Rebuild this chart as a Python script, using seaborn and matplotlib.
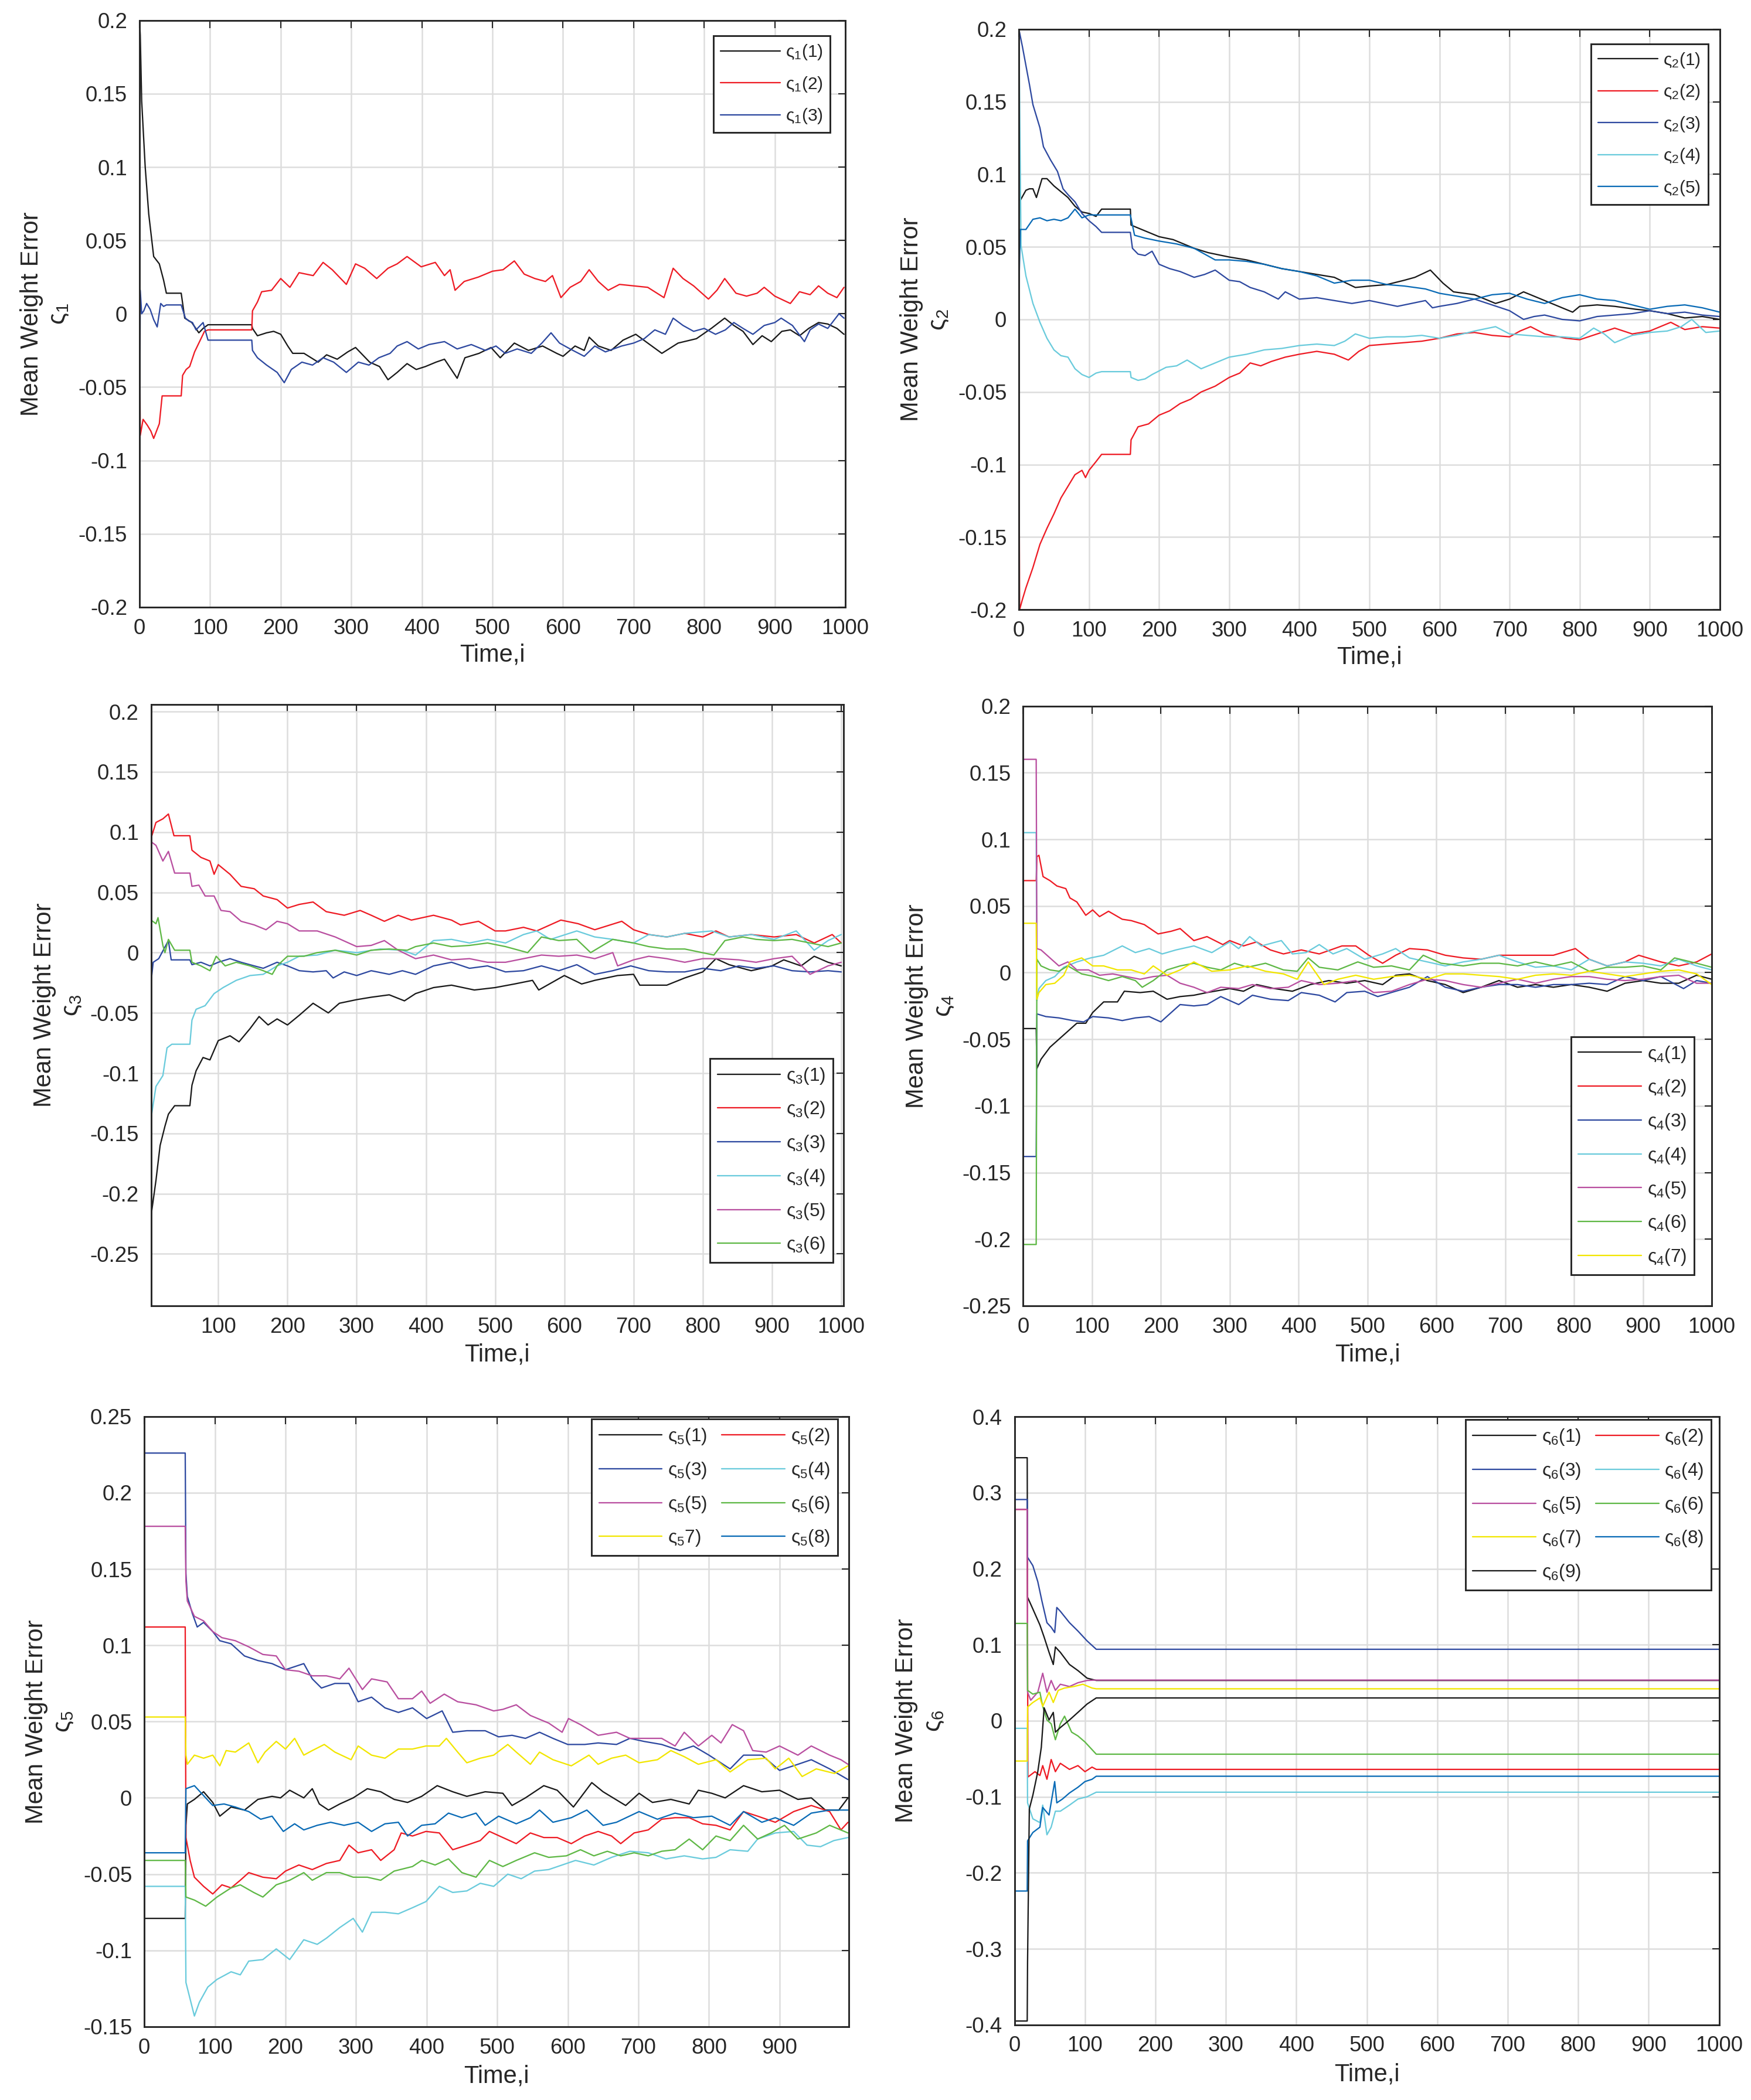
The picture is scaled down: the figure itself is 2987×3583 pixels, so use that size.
import matplotlib
matplotlib.use("Agg")
import matplotlib.pyplot as plt
import seaborn as sns

sns.set_style("white")
plt.rcParams["font.family"] = ["Liberation Sans", "DejaVu Sans"]
plt.rcParams["mathtext.fontset"] = "custom"
plt.rcParams["mathtext.rm"] = "Liberation Sans"
plt.rcParams["mathtext.it"] = "Liberation Sans:italic"
plt.rcParams["axes.unicode_minus"] = False

# colours (MATLAB-like)
BLACK = "#1a1a1a"
RED = "#ee1c25"
NAVY = "#2e49a0"
CYAN = "#6acbdc"
MAGENTA = "#b94fa0"
GREEN = "#5fb846"
YELLOW = "#f2e600"
BLUE = "#0a6bb6"

# ---------------- panel 1 : (time, value) ----------------
s1_1 = [(0, 0.2), (1, 0.19), (3, 0.145), (8, 0.1), (13, 0.068), (20, 0.039), (28, 0.034), (34, 0.023),
        (38, 0.014), (59, 0.014), (64, -0.003), (74, -0.006), (84, -0.013), (90, -0.01), (97, -0.0075),
        (159, -0.0075), (160, -0.01), (167, -0.015), (180, -0.013), (190, -0.012), (200, -0.014), (210, -0.022),
        (217, -0.027), (233, -0.027), (253, -0.033), (265, -0.028), (280, -0.031), (295, -0.026), (306, -0.023),
        (326, -0.033), (340, -0.036), (352, -0.045), (365, -0.04), (379, -0.034), (392, -0.038), (405, -0.036),
        (420, -0.033), (432, -0.031), (450, -0.044), (461, -0.03), (481, -0.027), (498, -0.023), (511, -0.03),
        (531, -0.02), (551, -0.025), (571, -0.022), (591, -0.027), (600, -0.029), (617, -0.022), (630, -0.025),
        (637, -0.016), (650, -0.022), (668, -0.025), (685, -0.018), (703, -0.014), (720, -0.02), (740, -0.027),
        (763, -0.02), (789, -0.017), (810, -0.01), (829, -0.003), (842, -0.008), (855, -0.012), (869, -0.021),
        (882, -0.015), (895, -0.019), (910, -0.012), (922, -0.011), (935, -0.015), (948, -0.01), (962, -0.006),
        (975, -0.007), (988, -0.01), (998, -0.014)]
s1_2 = [(0, 0.0), (1, -0.083), (5, -0.072), (11, -0.076), (16, -0.08), (20, -0.085), (28, -0.075), (32, -0.056),
        (59, -0.056), (61, -0.042), (66, -0.038), (71, -0.036), (78, -0.026), (87, -0.017), (92, -0.012),
        (97, -0.011), (159, -0.011), (160, 0.002), (167, 0.008), (173, 0.015), (187, 0.016), (200, 0.024),
        (213, 0.018), (226, 0.028), (246, 0.026), (260, 0.035), (273, 0.03), (293, 0.02), (306, 0.034),
        (319, 0.031), (336, 0.024), (352, 0.031), (365, 0.034), (379, 0.039), (399, 0.032), (419, 0.035),
        (432, 0.026), (440, 0.03), (447, 0.016), (460, 0.022), (480, 0.025), (500, 0.029), (515, 0.03),
        (531, 0.036), (545, 0.027), (560, 0.024), (575, 0.022), (585, 0.026), (597, 0.011), (610, 0.018),
        (625, 0.022), (637, 0.03), (650, 0.022), (664, 0.016), (680, 0.02), (700, 0.019), (720, 0.018),
        (743, 0.011), (756, 0.031), (770, 0.024), (785, 0.019), (806, 0.01), (818, 0.016), (829, 0.024),
        (845, 0.014), (860, 0.012), (875, 0.014), (885, 0.018), (900, 0.012), (922, 0.007), (935, 0.015),
        (950, 0.013), (962, 0.019), (975, 0.014), (988, 0.011), (998, 0.018)]
s1_3 = [(0, -0.11), (1, 0.016), (3, 0.0), (6, 0.002), (10, 0.007), (15, 0.003), (20, -0.004), (25, -0.009),
        (30, 0.007), (34, 0.005), (38, 0.006), (59, 0.006), (65, -0.003), (70, -0.005), (75, -0.006),
        (80, -0.011), (86, -0.008), (90, -0.006), (97, -0.018), (159, -0.018), (160, -0.025), (167, -0.03),
        (180, -0.035), (195, -0.04), (205, -0.047), (215, -0.038), (230, -0.033), (245, -0.035), (260, -0.03),
        (275, -0.033), (293, -0.04), (310, -0.033), (325, -0.035), (339, -0.03), (355, -0.027), (365, -0.022),
        (379, -0.019), (395, -0.024), (410, -0.021), (432, -0.019), (450, -0.024), (470, -0.021), (490, -0.025),
        (505, -0.022), (518, -0.027), (535, -0.024), (555, -0.027), (570, -0.02), (583, -0.013), (595, -0.02),
        (610, -0.024), (630, -0.029), (645, -0.022), (660, -0.026), (683, -0.022), (700, -0.02), (715, -0.017),
        (730, -0.011), (745, -0.014), (756, -0.003), (770, -0.008), (785, -0.012), (800, -0.01), (816, -0.014),
        (830, -0.011), (842, -0.006), (855, -0.01), (869, -0.014), (885, -0.008), (900, -0.006), (909, -0.003),
        (925, -0.008), (942, -0.019), (950, -0.011), (962, -0.007), (975, -0.01), (991, 0.0), (998, -0.003)]

# ---------------- panel 2 ----------------
s2_1 = [(0, 0.083), (2, 0.082), (10, 0.089), (15, 0.09), (20, 0.09), (25, 0.084), (33, 0.097), (40, 0.097),
        (50, 0.092), (60, 0.088), (70, 0.084), (80, 0.078), (90, 0.074), (100, 0.073), (110, 0.071),
        (118, 0.076), (159, 0.076), (160, 0.065), (175, 0.062), (190, 0.059), (200, 0.057), (220, 0.055),
        (235, 0.052), (250, 0.049), (270, 0.046), (300, 0.043), (325, 0.041), (350, 0.038), (375, 0.035),
        (400, 0.033), (425, 0.031), (450, 0.029), (480, 0.022), (500, 0.023), (525, 0.024), (550, 0.027),
        (565, 0.029), (587, 0.034), (595, 0.03), (605, 0.025), (620, 0.019), (650, 0.017), (680, 0.011),
        (700, 0.014), (720, 0.019), (740, 0.015), (760, 0.011), (790, 0.005), (800, 0.009), (825, 0.01),
        (850, 0.009), (880, 0.007), (900, 0.006), (925, 0.004), (950, 0.001), (975, 0.002), (1000, 0.0)]
s2_2 = [(0, -0.067), (1, -0.2), (5, -0.193), (10, -0.185), (20, -0.171), (30, -0.155), (40, -0.144),
        (50, -0.134), (60, -0.123), (70, -0.115), (80, -0.107), (90, -0.104), (95, -0.109), (100, -0.104),
        (110, -0.098), (118, -0.093), (159, -0.093), (160, -0.083), (170, -0.074), (185, -0.072), (200, -0.066),
        (215, -0.063), (230, -0.058), (245, -0.055), (260, -0.05), (280, -0.046), (300, -0.04), (315, -0.037),
        (330, -0.03), (345, -0.032), (360, -0.029), (380, -0.026), (400, -0.024), (425, -0.022), (450, -0.024),
        (470, -0.028), (485, -0.022), (500, -0.018), (525, -0.017), (550, -0.016), (575, -0.015), (600, -0.013),
        (625, -0.01), (650, -0.009), (675, -0.011), (700, -0.012), (715, -0.008), (730, -0.005), (750, -0.01),
        (780, -0.013), (800, -0.014), (825, -0.01), (850, -0.006), (875, -0.01), (900, -0.008), (930, -0.002),
        (950, -0.007), (975, -0.005), (1000, -0.006)]
s2_3 = [(0, 0.2), (5, 0.188), (10, 0.175), (15, 0.162), (20, 0.148), (25, 0.14), (30, 0.132), (35, 0.119),
        (45, 0.11), (55, 0.102), (63, 0.09), (70, 0.086), (80, 0.081), (90, 0.073), (100, 0.068), (110, 0.064),
        (118, 0.06), (159, 0.06), (162, 0.049), (170, 0.045), (180, 0.044), (190, 0.047), (200, 0.038),
        (215, 0.035), (230, 0.033), (250, 0.029), (265, 0.031), (280, 0.034), (300, 0.027), (315, 0.026),
        (330, 0.022), (350, 0.019), (370, 0.014), (380, 0.019), (400, 0.014), (425, 0.015), (450, 0.013),
        (475, 0.011), (500, 0.013), (520, 0.011), (540, 0.009), (560, 0.011), (580, 0.013), (590, 0.008),
        (600, 0.009), (625, 0.011), (650, 0.014), (675, 0.01), (700, 0.006), (720, 0.0), (735, 0.002),
        (750, 0.003), (775, 0.0), (800, -0.001), (825, 0.002), (850, 0.003), (875, 0.004), (900, 0.006),
        (925, 0.004), (950, 0.005), (975, 0.003), (1000, 0.002)]
s2_4 = [(0, 0.2), (3, 0.051), (10, 0.03), (20, 0.011), (30, -0.002), (40, -0.013), (50, -0.021), (60, -0.025),
        (70, -0.026), (80, -0.034), (90, -0.038), (100, -0.04), (110, -0.037), (118, -0.036), (159, -0.036),
        (160, -0.04), (170, -0.042), (180, -0.041), (190, -0.038), (210, -0.033), (225, -0.032), (240, -0.028),
        (260, -0.034), (280, -0.03), (300, -0.026), (325, -0.024), (350, -0.021), (375, -0.02), (400, -0.018),
        (425, -0.017), (450, -0.018), (465, -0.015), (480, -0.01), (500, -0.013), (525, -0.012), (550, -0.012),
        (575, -0.011), (600, -0.013), (625, -0.011), (650, -0.008), (680, -0.005), (700, -0.01), (725, -0.011),
        (750, -0.012), (775, -0.012), (800, -0.013), (820, -0.006), (835, -0.01), (850, -0.016), (875, -0.011),
        (900, -0.009), (925, -0.008), (945, -0.005), (960, 0.0), (980, -0.009), (1000, -0.008)]
s2_5 = [(0, 0.021), (2, 0.062), (10, 0.062), (20, 0.069), (30, 0.07), (40, 0.068), (50, 0.069), (60, 0.068),
        (70, 0.07), (80, 0.076), (90, 0.07), (100, 0.072), (118, 0.072), (159, 0.072), (165, 0.058),
        (180, 0.056), (200, 0.054), (225, 0.052), (250, 0.049), (265, 0.045), (280, 0.041), (300, 0.041),
        (325, 0.04), (350, 0.038), (375, 0.035), (400, 0.033), (425, 0.03), (450, 0.025), (475, 0.027),
        (500, 0.027), (525, 0.024), (550, 0.023), (580, 0.021), (600, 0.018), (625, 0.016), (650, 0.014),
        (675, 0.017), (700, 0.018), (725, 0.014), (750, 0.011), (775, 0.015), (800, 0.017), (825, 0.014),
        (850, 0.013), (875, 0.01), (900, 0.007), (925, 0.009), (950, 0.01), (975, 0.008), (1000, 0.005)]

# ---------------- panel 3 ----------------
s3_1 = [(3, -0.218), (10, -0.189), (16, -0.16), (23, -0.144), (28, -0.134), (37, -0.127), (59, -0.127),
        (62, -0.11), (68, -0.098), (78, -0.087), (88, -0.089), (100, -0.073), (117, -0.069), (130, -0.074),
        (146, -0.063), (159, -0.053), (172, -0.06), (185, -0.055), (200, -0.06), (217, -0.052), (237, -0.042),
        (259, -0.05), (275, -0.042), (300, -0.039), (321, -0.037), (347, -0.035), (369, -0.04), (385, -0.034),
        (411, -0.029), (437, -0.027), (470, -0.031), (500, -0.029), (528, -0.026), (554, -0.023), (563, -0.031),
        (600, -0.019), (625, -0.026), (644, -0.023), (677, -0.019), (700, -0.018), (709, -0.027), (748, -0.027),
        (774, -0.021), (800, -0.016), (819, -0.005), (838, -0.01), (870, -0.015), (900, -0.011), (917, -0.006),
        (942, -0.011), (961, -0.003), (981, -0.008), (1000, -0.011)]
s3_2 = [(3, 0.095), (10, 0.108), (20, 0.111), (28, 0.115), (36, 0.097), (59, 0.097), (62, 0.085), (75, 0.079),
        (88, 0.076), (94, 0.065), (100, 0.073), (117, 0.065), (133, 0.055), (152, 0.053), (165, 0.047),
        (185, 0.044), (200, 0.037), (217, 0.04), (237, 0.042), (256, 0.034), (282, 0.031), (305, 0.035),
        (321, 0.031), (340, 0.026), (360, 0.031), (379, 0.027), (411, 0.031), (437, 0.027), (450, 0.023),
        (476, 0.026), (500, 0.018), (515, 0.018), (541, 0.021), (560, 0.018), (595, 0.027), (620, 0.024),
        (644, 0.019), (683, 0.026), (700, 0.019), (722, 0.015), (748, 0.013), (774, 0.016), (800, 0.013),
        (819, 0.018), (838, 0.013), (870, 0.015), (903, 0.013), (935, 0.015), (961, 0.008), (987, 0.015),
        (1000, 0.008)]
s3_3 = [(3, -0.024), (6, -0.008), (14, -0.005), (28, 0.01), (32, -0.006), (59, -0.006), (62, -0.01),
        (75, -0.008), (88, -0.011), (100, -0.008), (117, -0.005), (133, -0.008), (152, -0.011), (165, -0.013),
        (185, -0.008), (200, -0.011), (217, -0.015), (237, -0.016), (256, -0.015), (266, -0.021), (282, -0.016),
        (300, -0.019), (321, -0.015), (347, -0.018), (366, -0.015), (385, -0.018), (411, -0.011), (437, -0.008),
        (463, -0.013), (489, -0.011), (515, -0.016), (541, -0.015), (567, -0.011), (592, -0.015), (618, -0.01),
        (644, -0.018), (670, -0.015), (696, -0.011), (722, -0.015), (748, -0.016), (774, -0.016), (800, -0.013),
        (826, -0.015), (852, -0.011), (877, -0.013), (903, -0.011), (929, -0.015), (955, -0.016), (981, -0.015),
        (1000, -0.016)]
s3_4 = [(3, -0.137), (10, -0.111), (20, -0.102), (26, -0.079), (33, -0.076), (59, -0.076), (62, -0.056),
        (68, -0.047), (81, -0.044), (94, -0.034), (107, -0.029), (126, -0.023), (146, -0.019), (165, -0.018),
        (185, -0.011), (200, -0.008), (217, -0.003), (243, -0.002), (269, 0.002), (300, 0.0), (334, 0.003),
        (366, 0.002), (385, -0.002), (411, 0.01), (437, 0.011), (463, 0.008), (489, 0.011), (515, 0.008),
        (541, 0.015), (560, 0.018), (580, 0.011), (618, 0.018), (644, 0.013), (670, 0.011), (700, 0.008),
        (722, 0.015), (748, 0.013), (774, 0.016), (813, 0.018), (838, 0.013), (870, 0.015), (903, 0.011),
        (935, 0.018), (961, 0.002), (981, 0.01), (1000, 0.015)]
s3_5 = [(3, 0.092), (10, 0.089), (20, 0.076), (28, 0.084), (37, 0.066), (59, 0.066), (62, 0.055), (72, 0.056),
        (81, 0.047), (94, 0.047), (104, 0.035), (117, 0.034), (133, 0.026), (152, 0.023), (169, 0.019),
        (185, 0.026), (200, 0.024), (217, 0.018), (243, 0.018), (269, 0.013), (300, 0.005), (321, 0.006),
        (340, 0.01), (360, 0.002), (385, -0.005), (411, -0.002), (437, -0.006), (463, -0.005), (489, -0.008),
        (515, -0.008), (541, -0.005), (567, -0.002), (592, -0.003), (618, -0.002), (644, -0.005), (670, 0.0),
        (677, -0.011), (700, -0.006), (722, -0.003), (748, -0.005), (774, -0.008), (800, -0.005), (826, -0.005),
        (852, -0.006), (877, -0.008), (903, -0.005), (929, -0.003), (955, -0.018), (981, -0.011), (1000, -0.008)]
s3_6 = [(3, 0.027), (10, 0.024), (13, 0.029), (20, 0.006), (23, 0.0), (28, 0.011), (37, 0.002), (59, 0.002),
        (62, -0.008), (75, -0.011), (88, -0.015), (97, -0.003), (110, -0.011), (126, -0.008), (146, -0.011),
        (165, -0.015), (178, -0.018), (185, -0.011), (200, -0.003), (224, -0.003), (243, 0.0), (269, 0.002),
        (300, -0.002), (321, 0.002), (347, 0.003), (373, 0.002), (385, 0.005), (411, 0.008), (437, 0.005),
        (463, 0.006), (489, 0.008), (515, 0.005), (547, 0.0), (567, 0.013), (592, 0.01), (618, 0.011),
        (638, 0.0), (670, 0.011), (700, 0.008), (722, 0.005), (748, 0.003), (774, 0.003), (816, -0.002),
        (832, 0.01), (858, 0.013), (877, 0.011), (903, 0.01), (929, 0.011), (955, 0.008), (981, 0.005),
        (1000, 0.008)]

# ---------------- panel 4 ----------------
s4_1 = [(0, -0.042), (19, -0.042), (20, -0.072), (26, -0.065), (39, -0.056), (52, -0.05), (65, -0.044),
        (78, -0.038), (91, -0.038), (101, -0.03), (117, -0.022), (137, -0.022), (147, -0.014), (170, -0.015),
        (189, -0.014), (209, -0.02), (228, -0.018), (248, -0.017), (267, -0.015), (300, -0.012), (320, -0.014),
        (339, -0.009), (365, -0.012), (391, -0.014), (417, -0.009), (444, -0.006), (470, -0.008), (496, -0.006),
        (522, -0.009), (541, -0.002), (561, -0.001), (587, -0.006), (613, -0.009), (639, -0.015), (665, -0.011),
        (691, -0.006), (718, -0.011), (744, -0.009), (770, -0.011), (796, -0.009), (822, -0.011), (848, -0.014),
        (874, -0.008), (900, -0.006), (926, -0.008), (952, -0.008), (978, -0.002), (1000, -0.005)]
s4_2 = [(0, 0.069), (19, 0.069), (20, 0.087), (23, 0.088), (29, 0.072), (39, 0.069), (49, 0.065), (62, 0.063),
        (68, 0.056), (78, 0.053), (91, 0.043), (101, 0.047), (111, 0.042), (124, 0.046), (144, 0.04),
        (157, 0.039), (176, 0.036), (196, 0.029), (215, 0.031), (228, 0.033), (248, 0.024), (267, 0.027),
        (290, 0.021), (300, 0.024), (320, 0.02), (339, 0.023), (359, 0.017), (378, 0.014), (404, 0.017),
        (430, 0.014), (463, 0.02), (483, 0.02), (502, 0.013), (522, 0.007), (541, 0.013), (561, 0.018),
        (587, 0.017), (613, 0.013), (639, 0.011), (665, 0.01), (691, 0.013), (718, 0.013), (744, 0.013),
        (770, 0.013), (802, 0.018), (822, 0.01), (848, 0.005), (874, 0.008), (894, 0.013), (926, 0.008),
        (952, 0.005), (978, 0.008), (1000, 0.014)]
s4_3 = [(0, -0.138), (19, -0.138), (20, -0.031), (33, -0.033), (52, -0.034), (72, -0.036), (88, -0.037),
        (101, -0.033), (124, -0.034), (144, -0.036), (163, -0.034), (183, -0.033), (200, -0.037), (215, -0.03),
        (228, -0.024), (248, -0.025), (267, -0.024), (287, -0.018), (313, -0.024), (333, -0.017), (359, -0.02),
        (385, -0.021), (404, -0.015), (430, -0.017), (453, -0.022), (470, -0.015), (496, -0.014), (515, -0.018),
        (541, -0.014), (561, -0.011), (587, -0.003), (613, -0.011), (639, -0.014), (665, -0.011), (691, -0.009),
        (718, -0.009), (744, -0.011), (770, -0.009), (796, -0.009), (822, -0.008), (848, -0.009), (874, -0.003),
        (900, -0.006), (926, -0.003), (959, -0.012), (978, -0.006), (1000, -0.008)]
s4_4 = [(0, 0.105), (19, 0.105), (20, -0.021), (23, -0.012), (33, -0.006), (46, -0.003), (59, 0.004),
        (78, 0.008), (98, 0.011), (117, 0.013), (144, 0.02), (163, 0.015), (183, 0.018), (202, 0.014),
        (222, 0.017), (248, 0.02), (274, 0.015), (300, 0.023), (313, 0.018), (329, 0.027), (346, 0.02),
        (375, 0.024), (391, 0.014), (411, 0.015), (430, 0.021), (450, 0.014), (470, 0.018), (496, 0.01),
        (522, 0.014), (541, 0.018), (561, 0.011), (587, 0.008), (613, 0.005), (639, 0.008), (665, 0.01),
        (691, 0.013), (718, 0.008), (744, 0.004), (770, 0.005), (796, 0.002), (822, 0.01), (848, 0.005),
        (874, 0.008), (900, 0.007), (926, 0.005), (952, 0.01), (978, 0.005), (1000, 0.002)]
s4_5 = [(0, 0.16), (19, 0.16), (20, 0.018), (26, 0.017), (39, 0.011), (52, 0.005), (65, 0.008), (78, 0.002),
        (95, 0.002), (111, -0.002), (130, -0.001), (150, -0.003), (170, -0.005), (189, -0.003), (209, -0.002),
        (228, -0.008), (248, -0.011), (267, -0.015), (287, -0.011), (313, -0.012), (333, -0.009), (359, -0.012),
        (385, -0.011), (404, -0.006), (430, -0.009), (457, -0.008), (483, -0.006), (509, -0.015), (535, -0.014),
        (561, -0.009), (587, -0.005), (613, -0.006), (639, -0.009), (665, -0.011), (691, -0.008), (718, -0.005),
        (744, -0.008), (770, -0.005), (796, -0.003), (822, -0.003), (848, -0.005), (874, -0.006), (900, -0.005),
        (926, -0.003), (952, -0.002), (978, -0.008), (1000, -0.008)]
s4_6 = [(0, -0.204), (19, -0.204), (20, 0.01), (26, 0.005), (39, 0.002), (52, 0.001), (65, 0.005), (85, -0.001),
        (104, -0.003), (124, -0.006), (144, -0.003), (163, -0.006), (173, -0.011), (189, -0.006), (209, 0.002),
        (228, 0.005), (248, 0.007), (267, 0.004), (287, 0.002), (307, 0.007), (326, 0.004), (352, 0.007),
        (378, 0.002), (398, 0.001), (414, 0.011), (430, 0.004), (457, 0.002), (486, 0.008), (509, 0.004),
        (535, 0.005), (561, 0.002), (581, 0.013), (607, 0.007), (639, 0.005), (665, 0.007), (691, 0.007),
        (718, 0.005), (744, 0.008), (770, 0.005), (796, 0.008), (822, 0.001), (848, 0.004), (874, 0.004),
        (900, 0.005), (926, 0.002), (946, 0.011), (978, 0.007), (1000, 0.004)]
s4_7 = [(0, 0.037), (19, 0.037), (20, -0.02), (23, -0.015), (33, -0.009), (46, -0.008), (59, -0.002),
        (68, 0.008), (85, 0.011), (101, 0.005), (117, 0.005), (137, 0.002), (157, 0.002), (176, -0.001),
        (189, 0.005), (209, -0.002), (228, 0.002), (248, 0.008), (274, 0.001), (300, 0.002), (326, 0.005),
        (352, 0.001), (378, -0.001), (398, -0.005), (414, 0.008), (437, -0.009), (457, -0.005), (483, -0.002),
        (509, -0.005), (535, -0.003), (561, -0.002), (587, -0.005), (613, -0.001), (639, -0.001), (665, -0.002),
        (691, -0.003), (718, -0.005), (744, -0.002), (770, -0.001), (796, -0.002), (822, 0.001), (848, -0.001),
        (874, -0.003), (900, -0.001), (926, 0.001), (952, 0.002), (978, -0.001), (1000, -0.009)]

# ---------------- panel 5 ----------------
s5_1 = [(0, -0.079), (58, -0.079), (59, -0.018), (61, -0.004), (71, -0.001), (84, 0.004), (97, -0.003),
        (107, -0.012), (123, -0.006), (142, -0.008), (161, -0.001), (181, 0.001), (193, 0.0), (206, 0.005),
        (226, 0.0), (238, 0.006), (248, -0.004), (261, -0.008), (277, -0.004), (296, 0.0), (316, 0.006),
        (335, 0.004), (354, -0.001), (373, -0.003), (393, 0.001), (415, 0.008), (437, 0.004), (457, 0.001),
        (483, 0.004), (508, 0.003), (521, -0.005), (540, 0.0), (566, 0.008), (585, 0.005), (608, -0.006),
        (634, 0.01), (650, 0.004), (682, -0.005), (701, 0.003), (720, -0.003), (746, -0.001), (772, -0.004),
        (785, 0.005), (804, 0.003), (823, 0.0), (849, 0.008), (875, 0.004), (900, 0.005), (926, -0.001),
        (945, 0.0), (965, -0.008), (984, -0.008), (997, 0.0)]
s5_2 = [(0, 0.112), (58, 0.112), (59, -0.026), (65, -0.041), (71, -0.052), (84, -0.058), (97, -0.063),
        (110, -0.057), (123, -0.059), (136, -0.054), (148, -0.049), (168, -0.052), (187, -0.053), (200, -0.048),
        (219, -0.044), (238, -0.047), (258, -0.043), (277, -0.041), (290, -0.031), (303, -0.036), (322, -0.034),
        (335, -0.041), (354, -0.034), (364, -0.023), (380, -0.025), (399, -0.022), (418, -0.023), (437, -0.034),
        (457, -0.031), (476, -0.028), (489, -0.022), (508, -0.026), (527, -0.03), (547, -0.023), (566, -0.026),
        (585, -0.026), (605, -0.03), (624, -0.025), (643, -0.022), (662, -0.025), (675, -0.03), (694, -0.023),
        (714, -0.021), (733, -0.014), (752, -0.013), (772, -0.013), (791, -0.017), (810, -0.018), (830, -0.021),
        (849, -0.009), (869, -0.012), (894, -0.016), (920, -0.009), (945, -0.005), (971, -0.009), (987, -0.021),
        (997, -0.016)]
s5_3 = [(0, 0.226), (58, 0.226), (59, 0.147), (61, 0.132), (68, 0.121), (75, 0.112), (84, 0.115), (97, 0.109),
        (107, 0.103), (123, 0.101), (142, 0.093), (161, 0.09), (181, 0.088), (200, 0.084), (226, 0.088),
        (238, 0.078), (251, 0.072), (270, 0.075), (290, 0.075), (303, 0.063), (322, 0.066), (341, 0.059),
        (360, 0.056), (380, 0.059), (400, 0.052), (422, 0.057), (437, 0.043), (457, 0.044), (483, 0.044),
        (502, 0.04), (521, 0.041), (540, 0.039), (560, 0.043), (579, 0.039), (600, 0.035), (624, 0.035),
        (643, 0.036), (669, 0.035), (688, 0.039), (708, 0.037), (733, 0.035), (759, 0.031), (778, 0.034),
        (800, 0.028), (830, 0.019), (849, 0.028), (875, 0.028), (900, 0.018), (926, 0.022), (945, 0.025),
        (971, 0.019), (997, 0.012)]
s5_4 = [(0, -0.058), (58, -0.058), (59, -0.121), (65, -0.132), (71, -0.143), (78, -0.134), (90, -0.124),
        (103, -0.119), (123, -0.114), (136, -0.116), (148, -0.107), (168, -0.106), (187, -0.099), (206, -0.106),
        (226, -0.093), (245, -0.096), (258, -0.092), (277, -0.085), (296, -0.079), (309, -0.088), (322, -0.075),
        (341, -0.075), (360, -0.076), (380, -0.072), (399, -0.068), (418, -0.058), (437, -0.062), (457, -0.061),
        (476, -0.056), (495, -0.058), (515, -0.05), (534, -0.053), (553, -0.048), (573, -0.047), (592, -0.044),
        (611, -0.041), (637, -0.044), (662, -0.039), (688, -0.035), (714, -0.036), (739, -0.04), (765, -0.038),
        (791, -0.04), (810, -0.039), (830, -0.034), (855, -0.035), (869, -0.027), (894, -0.023), (920, -0.022),
        (939, -0.031), (958, -0.032), (977, -0.028), (997, -0.026)]
s5_5 = [(0, 0.178), (58, 0.178), (59, 0.142), (61, 0.129), (71, 0.119), (84, 0.116), (97, 0.109), (110, 0.105),
        (129, 0.103), (148, 0.099), (168, 0.094), (187, 0.093), (200, 0.084), (219, 0.083), (238, 0.08),
        (258, 0.08), (277, 0.078), (290, 0.085), (309, 0.071), (322, 0.078), (344, 0.076), (360, 0.065),
        (380, 0.065), (393, 0.07), (405, 0.062), (425, 0.068), (444, 0.063), (470, 0.061), (495, 0.057),
        (508, 0.058), (527, 0.061), (547, 0.054), (573, 0.049), (592, 0.043), (601, 0.052), (618, 0.048),
        (643, 0.041), (669, 0.043), (688, 0.039), (708, 0.039), (733, 0.039), (752, 0.034), (765, 0.043),
        (785, 0.034), (804, 0.041), (817, 0.036), (833, 0.048), (849, 0.044), (862, 0.031), (881, 0.03),
        (900, 0.034), (926, 0.028), (945, 0.034), (971, 0.028), (987, 0.025), (997, 0.022)]
s5_6 = [(0, -0.041), (58, -0.041), (59, -0.065), (71, -0.067), (87, -0.071), (103, -0.065), (123, -0.059),
        (136, -0.057), (155, -0.062), (168, -0.065), (187, -0.057), (206, -0.054), (226, -0.049), (238, -0.054),
        (258, -0.049), (277, -0.049), (296, -0.052), (316, -0.052), (335, -0.054), (354, -0.048), (380, -0.045),
        (393, -0.041), (412, -0.044), (431, -0.04), (450, -0.049), (470, -0.052), (489, -0.041), (508, -0.045),
        (527, -0.041), (553, -0.036), (573, -0.039), (598, -0.038), (618, -0.034), (637, -0.038), (656, -0.035),
        (675, -0.038), (694, -0.036), (714, -0.038), (733, -0.035), (752, -0.034), (772, -0.027), (791, -0.034),
        (810, -0.025), (830, -0.028), (849, -0.018), (869, -0.027), (888, -0.023), (907, -0.018), (926, -0.027),
        (952, -0.023), (971, -0.018), (997, -0.023)]
s5_7 = [(0, 0.053), (58, 0.053), (59, 0.028), (61, 0.022), (71, 0.028), (84, 0.026), (97, 0.028), (107, 0.021),
        (116, 0.031), (129, 0.03), (148, 0.036), (161, 0.023), (171, 0.03), (187, 0.037), (200, 0.032),
        (213, 0.039), (226, 0.028), (238, 0.031), (255, 0.035), (270, 0.03), (293, 0.025), (303, 0.034),
        (322, 0.028), (341, 0.026), (360, 0.032), (380, 0.032), (399, 0.034), (418, 0.034), (428, 0.039),
        (444, 0.03), (457, 0.023), (476, 0.026), (495, 0.028), (515, 0.035), (527, 0.03), (547, 0.022),
        (560, 0.03), (579, 0.025), (605, 0.021), (630, 0.028), (643, 0.022), (662, 0.026), (682, 0.028),
        (701, 0.023), (727, 0.025), (746, 0.031), (765, 0.027), (785, 0.022), (810, 0.025), (830, 0.017),
        (855, 0.025), (881, 0.026), (894, 0.019), (913, 0.026), (932, 0.014), (952, 0.019), (978, 0.016),
        (997, 0.021)]
s5_8 = [(0, -0.036), (58, -0.036), (59, 0.006), (71, 0.008), (81, 0.003), (97, -0.005), (113, -0.004),
        (129, -0.006), (148, -0.009), (165, -0.014), (181, -0.012), (197, -0.022), (213, -0.017), (226, -0.021),
        (245, -0.018), (264, -0.016), (283, -0.018), (303, -0.016), (322, -0.022), (341, -0.017), (360, -0.016),
        (373, -0.025), (393, -0.018), (412, -0.017), (431, -0.01), (450, -0.013), (470, -0.01), (483, -0.018),
        (502, -0.012), (527, -0.017), (547, -0.013), (560, -0.008), (579, -0.016), (605, -0.013), (627, -0.008),
        (650, -0.018), (669, -0.016), (701, -0.009), (727, -0.014), (752, -0.01), (778, -0.013), (804, -0.012),
        (830, -0.018), (849, -0.009), (875, -0.016), (894, -0.013), (920, -0.018), (945, -0.01), (971, -0.008),
        (997, -0.008)]

# ---------------- panel 6 ----------------
s6_1 = [(0, 0.346), (18, 0.346), (18.5, 0.1625), (26, 0.147), (36, 0.126), (42, 0.11), (49, 0.09), (55, 0.074),
        (58, 0.097), (65, 0.09), (78, 0.074), (90, 0.066), (103, 0.056), (116, 0.053), (1000, 0.053)]
s6_2 = [(0, 0.278), (18, 0.278), (19, -0.074), (29, -0.067), (36, -0.072), (40, -0.059), (46, -0.077),
        (52, -0.051), (58, -0.067), (65, -0.056), (78, -0.064), (90, -0.059), (100, -0.067), (110, -0.061),
        (116, -0.064), (1000, -0.064)]
s6_3 = [(0, 0.291), (18, 0.291), (18.5, 0.215), (26, 0.204), (33, 0.183), (39, 0.157), (46, 0.129), (52, 0.123),
        (57, 0.116), (60, 0.149), (65, 0.144), (78, 0.129), (90, 0.118), (103, 0.105), (116, 0.094), (1000, 0.094)]
s6_4 = [(0, -0.01), (18, -0.01), (18.5, -0.108), (26, -0.129), (36, -0.134), (40, -0.111), (46, -0.15),
        (52, -0.14), (58, -0.119), (65, -0.119), (78, -0.111), (90, -0.103), (103, -0.1), (116, -0.094),
        (1000, -0.094)]
s6_5 = [(0, 0.278), (18, 0.278), (18.5, 0.0375), (23, 0.027), (33, 0.0375), (40, 0.0625), (46, 0.0375),
        (52, 0.053), (58, 0.04), (65, 0.048), (78, 0.045), (90, 0.05), (103, 0.053), (116, 0.0535), (1000, 0.0535)]
s6_6 = [(0, 0.128), (18, 0.128), (18.5, 0.04), (26, 0.035), (36, 0.0375), (40, 0.019), (46, 0.001), (52, -0.004),
        (58, -0.025), (65, -0.004), (71, 0.006), (81, -0.015), (90, -0.02), (100, -0.028), (107, -0.035),
        (116, -0.044), (1000, -0.044)]
s6_7 = [(0, -0.053), (18, -0.053), (18.5, 0.018), (26, 0.024), (36, 0.03), (40, 0.019), (49, 0.0375), (55, 0.024),
        (62, 0.04), (71, 0.043), (84, 0.045), (97, 0.048), (110, 0.043), (116, 0.042), (1000, 0.042)]
s6_8 = [(0, -0.224), (18, -0.224), (18.5, -0.158), (26, -0.147), (36, -0.14), (40, -0.114), (49, -0.124),
        (57, -0.08), (60, -0.108), (68, -0.103), (78, -0.095), (90, -0.0875), (100, -0.08), (110, -0.077),
        (116, -0.073), (1000, -0.073)]
s6_9 = [(0, -0.395), (18, -0.395), (18.5, -0.317), (21, -0.116), (26, -0.098), (33, -0.067), (38, -0.035),
        (42, 0.017), (49, 0.001), (55, 0.011), (58, -0.015), (65, -0.009), (78, 0.001), (90, 0.011),
        (103, 0.022), (116, 0.03), (1000, 0.03)]

yticks_a = [-0.2, -0.15, -0.1, -0.05, 0, 0.05, 0.1, 0.15, 0.2]
yticks_b = [-0.25, -0.2, -0.15, -0.1, -0.05, 0, 0.05, 0.1, 0.15, 0.2]
yticks_c = [-0.15, -0.1, -0.05, 0, 0.05, 0.1, 0.15, 0.2, 0.25]
yticks_d = [-0.4, -0.3, -0.2, -0.1, 0, 0.1, 0.2, 0.3, 0.4]
xticks_a = [0, 100, 200, 300, 400, 500, 600, 700, 800, 900, 1000]
xticks_b = [100, 200, 300, 400, 500, 600, 700, 800, 900, 1000]
xticks_c = [0, 100, 200, 300, 400, 500, 600, 700, 800, 900]

lab5 = ["ς$_5$(1)", "ς$_5$(2)", "ς$_5$(3)", "ς$_5$(4)", "ς$_5$(5)", "ς$_5$(6)", "ς$_5$7)", "ς$_5$(8)"]

AX = "#262626"
fig = plt.figure(figsize=(2987 / 300, 3583 / 300), dpi=300)


def panel(rect, k, series, colors, labels, yticks, ylim, xticks, xlim, leg_loc, leg_anchor,
          ncol=1, legsize=7.6):
    ax = fig.add_axes(rect)
    for pts, c, lab in zip(series, colors, labels):
        sns.lineplot(x=[p[0] for p in pts], y=[p[1] for p in pts], ax=ax, color=c, lw=0.55,
                     sort=False, estimator=None, label=lab)
    ax.set_xlim(xlim)
    ax.set_ylim(ylim)
    ax.set_xticks(xticks)
    ax.set_xticklabels([f"{v:g}" for v in xticks])
    ax.set_yticks(yticks)
    ax.set_yticklabels([f"{v:g}" for v in yticks])
    ax.grid(True, color="#dddddd", lw=0.6)
    ax.set_axisbelow(True)
    ax.tick_params(direction="in", length=3, width=0.5, top=True, right=True,
                   colors=AX, labelsize=8.8)
    ax.tick_params(axis="y", pad=5)
    ax.tick_params(axis="x", pad=4.5)
    for s in ax.spines.values():
        s.set_color(AX)
        s.set_linewidth(0.7)
    ax.set_ylabel("Mean Weight Error\nς$_%d$" % k, fontsize=10, color=AX, linespacing=1.2)
    ax.yaxis.set_label_coords(-0.098, 0.5)
    ax.set_xlabel("Time,i", fontsize=10, color=AX)
    ax.xaxis.set_label_coords(0.5, -0.062)

    handles, labs = ax.get_legend_handles_labels()
    if ncol == 2:
        # fill row by row like the original
        order = list(range(0, len(labs), 2)) + list(range(1, len(labs), 2))
        handles = [handles[i] for i in order]
        labs = [labs[i] for i in order]
    leg = ax.legend(handles, labs, loc=leg_loc, bbox_to_anchor=leg_anchor, borderaxespad=0, ncol=ncol,
                    fontsize=legsize, frameon=True, fancybox=False, framealpha=1, edgecolor=AX,
                    handlelength=3.4, handletextpad=0.3, labelspacing=0.75, borderpad=0.4,
                    columnspacing=0.8)
    leg.get_frame().set_linewidth(0.7)
    return ax


panel([0.0797, 0.7109, 0.4031, 0.2794], 1, [s1_1, s1_2, s1_3], [BLACK, RED, NAVY],
      ["ς$_1$(%d)" % i for i in range(1, 4)], yticks_a, (-0.2, 0.2), xticks_a, (0, 1000),
      "upper right", (0.978, 0.9735), legsize=7.2)

panel([0.5819, 0.7097, 0.4003, 0.2764], 2, [s2_1, s2_2, s2_3, s2_4, s2_5], [BLACK, RED, NAVY, CYAN, BLUE],
      ["ς$_2$(%d)" % i for i in range(1, 6)], yticks_a, (-0.2, 0.2), xticks_a, (0, 1000),
      "upper right", (0.983, 0.975), legsize=7.2)

panel([0.0863, 0.3782, 0.3953, 0.2864], 3, [s3_1, s3_2, s3_3, s3_4, s3_5, s3_6],
      [BLACK, RED, NAVY, CYAN, MAGENTA, GREEN],
      ["ς$_3$(%d)" % i for i in range(1, 7)], yticks_b, (-0.293, 0.206), xticks_b, (3, 1003),
      "lower right", (0.985, 0.072))

panel([0.5843, 0.3782, 0.3933, 0.2856], 4, [s4_1, s4_2, s4_3, s4_4, s4_5, s4_6, s4_7],
      [BLACK, RED, NAVY, CYAN, MAGENTA, GREEN, YELLOW],
      ["ς$_4$(%d)" % i for i in range(1, 8)], yticks_b, (-0.25, 0.2), xticks_a, (0, 1000),
      "lower right", (0.974, 0.052))

panel([0.0824, 0.0349, 0.4023, 0.2906], 5, [s5_1, s5_2, s5_3, s5_4, s5_5, s5_6, s5_7, s5_8],
      [BLACK, RED, NAVY, CYAN, MAGENTA, GREEN, YELLOW, BLUE],
      lab5, yticks_c, (-0.15, 0.25), xticks_c, (0, 998),
      "upper right", (0.984, 0.9955), ncol=2)

panel([0.5794, 0.0358, 0.4024, 0.2896], 6, [s6_1, s6_2, s6_3, s6_4, s6_5, s6_6, s6_7, s6_8, s6_9],
      [BLACK, RED, NAVY, CYAN, MAGENTA, GREEN, YELLOW, BLUE, BLACK],
      ["ς$_6$(%d)" % i for i in range(1, 10)], yticks_d, (-0.4, 0.4), xticks_a, (0, 1000),
      "upper right", (0.989, 0.9948), ncol=2)

fig.savefig("out.png", dpi=300)
